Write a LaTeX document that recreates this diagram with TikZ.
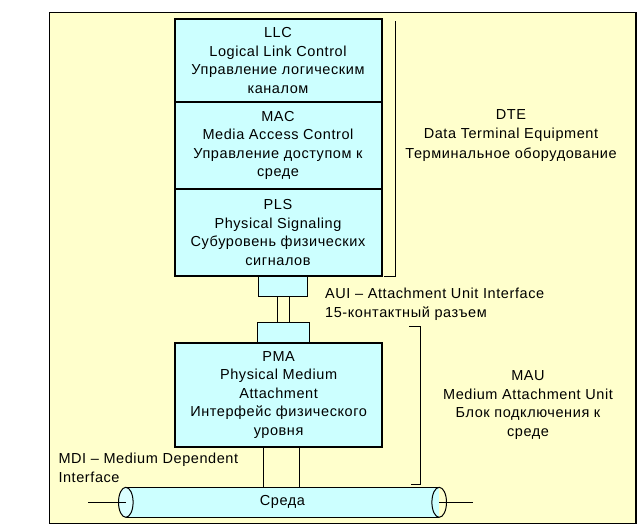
\documentclass[tikz,border=0pt]{standalone}
\usepackage{fontspec}
\setmainfont{Liberation Sans}[LetterSpace=4]
\definecolor{bgyel}{HTML}{FFFFCC}
\definecolor{boxcyan}{HTML}{CCFFFF}
\begin{document}
\begin{tikzpicture}[x=1pt,y=-1pt,
  layer/.style={draw=black, line width=2pt, fill=boxcyan, inner sep=0pt, align=center,
    font=\fontsize{14.5}{18.5}\selectfont},
  plug/.style={draw=black, line width=1pt, fill=boxcyan, inner sep=0pt},
  wire/.style={draw=black, line width=1pt},
  brk/.style={draw=black, line width=1pt},
  lbl/.style={inner sep=0pt, align=center, font=\fontsize{14.5}{19.5}\selectfont},
]
\useasboundingbox (0,0) rectangle (641,528);
\node[draw=black, line width=1.3pt, fill=bgyel, minimum width=586.7pt, minimum height=511pt, inner sep=0pt] (bg) at (342.65,267.8) {};

\node[layer, minimum width=207pt, minimum height=82.7pt] (llc) at (278,60.4)
  {LLC\\Logical Link Control\\Управление логическим\\каналом};
\node[layer, minimum width=207pt, minimum height=87.3pt] (mac) at (278,145.35)
  {MAC\\Media Access Control\\Управление доступом к\\среде};
\node[layer, minimum width=207pt, minimum height=86.7pt] (pls) at (278,232.35)
  {PLS\\Physical Signaling\\Субуровень физических\\сигналов};

\node[plug, minimum width=48.3pt, minimum height=20.3pt] (aui1) at (282.85,286.15) {};
\node[plug, minimum width=52pt, minimum height=20.4pt] (aui2) at (283.3,332.5) {};

\node[layer, minimum width=206.7pt, minimum height=104pt] (pma) at (278.6,394.7)
  {PMA\\Physical Medium\\Attachment\\Интерфейс физического\\уровня};

\draw[wire] ([xshift=-5.55pt]aui1.south) -- ([xshift=-5.55pt]aui1.south |- aui2.north);
\draw[wire] ([xshift=6.45pt]aui1.south) -- ([xshift=6.45pt]aui1.south |- aui2.north);

% cylinder
\node[fill=boxcyan, minimum width=313pt, minimum height=30pt, inner sep=0pt,
  font=\fontsize{14.5}{16}\selectfont] (cyl) at (282.5,502.3) {Среда};
\draw[wire] (cyl.north west) -- (cyl.north east);
\draw[wire] (cyl.south west) -- (cyl.south east);
\draw[wire, fill=boxcyan!70!white] (cyl.west) ellipse [x radius=7.3pt, y radius=15pt];
\draw[wire] (cyl.east) ellipse [x radius=7.3pt, y radius=15pt];
\coordinate (lend) at (88.3,502.3);
\coordinate (rend) at (472.7,502.3);
\draw[wire] (lend) -- (cyl.west);
\draw[wire] (cyl.east) -- (rend);

\draw[wire] ([xshift=-15.3pt]pma.south) -- ([xshift=-15.3pt]pma.south |- cyl.north);
\draw[wire] ([xshift=20.7pt]pma.south) -- ([xshift=20.7pt]pma.south |- cyl.north);

% brackets
\coordinate (d1) at (395.3,21);
\coordinate (d2) at (395.3,276.3);
\coordinate (d3) at (384,276.3);
\draw[brk] (d1) -- (d2) -- (d3);
\coordinate (m1) at (409.3,326.7);
\coordinate (m2) at (420.3,326.7);
\coordinate (m3) at (420.3,484);
\coordinate (m4) at (411.3,484);
\draw[brk] (m1) -- (m2) -- (m3) -- (m4);

% labels
\node[lbl] (dte) at (511,135.5) {DTE\\Data Terminal Equipment\\Терминальное оборудование};
\node[lbl, align=left, anchor=west] (aui) at (325,304.2) {AUI -- Attachment Unit Interface\\15-контактный разъем};
\node[lbl, font=\fontsize{14.5}{18.5}\selectfont] (mau) at (528,405) {MAU\\Medium Attachment Unit\\Блок подключения к\\среде};
\node[lbl, align=left, anchor=west] (mdi) at (58.3,467.7) {MDI -- Medium Dependent\\Interface};
\end{tikzpicture}
\end{document}
